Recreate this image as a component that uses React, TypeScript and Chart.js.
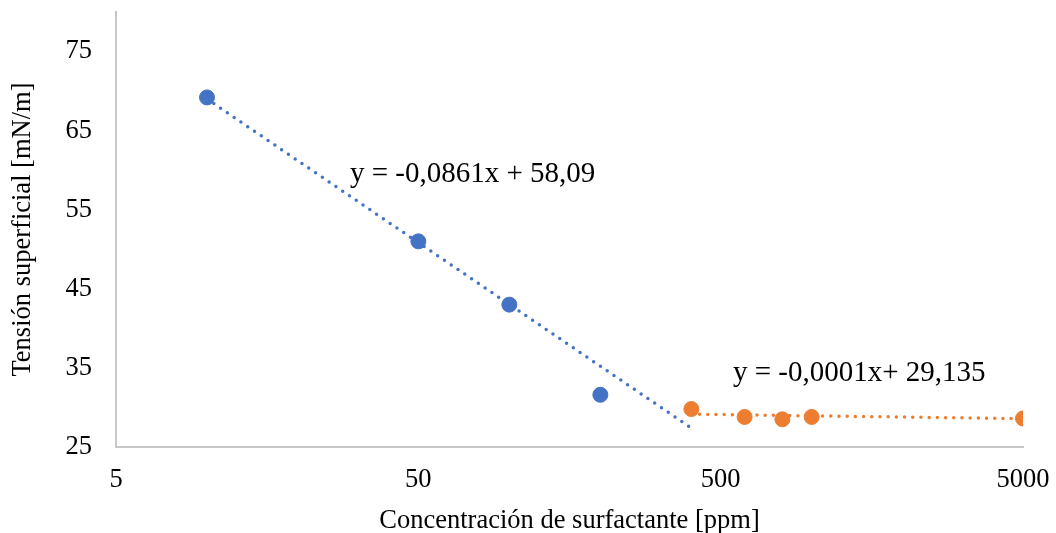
import React, { useEffect, useRef } from "react";
import { Chart, registerables } from "chart.js";

Chart.register(...registerables);

const BLUE_X = [10, 50, 100, 200];
const BLUE_Y = [69.2, 51.0, 43.0, 31.6];
const ORANGE_X = [400, 600, 800, 1000, 5000];
const ORANGE_Y = [29.8, 28.8, 28.5, 28.8, 28.6];
const BLUE_TREND_X = [10, 400];
const BLUE_TREND_Y = [69.0, 27.4];
const ORANGE_TREND_X = [400, 5000];
const ORANGE_TREND_Y = [29.15, 28.58];
const X_TICKS = [5, 50, 500, 5000];
const Y_TICKS = [25, 35, 45, 55, 65, 75];
const EQ_BLUE = "y = -0,0861x + 58,09";
const EQ_ORANGE = "y = -0,0001x+ 29,135";
const EQ_BLUE_POS = [29.7, 59.5];
const EQ_ORANGE_POS = [549, 34.3];

const FONT = '"Liberation Serif", "Times New Roman", serif';
const BLUE = "#4472C4";
const ORANGE = "#ED7D31";

const toPts = (xs: number[], ys: number[]) => xs.map((x, i) => ({ x, y: ys[i] }));

const eqPlugin = {
  id: "eqLabels",
  afterDatasetsDraw(chart: any) {
    const { ctx, scales } = chart;
    ctx.save();
    ctx.fillStyle = "#000";
    ctx.font = `29px ${FONT}`;
    ctx.textAlign = "left";
    ctx.textBaseline = "middle";
    ctx.fillText(EQ_BLUE, scales.x.getPixelForValue(EQ_BLUE_POS[0]), scales.y.getPixelForValue(EQ_BLUE_POS[1]));
    ctx.fillText(EQ_ORANGE, scales.x.getPixelForValue(EQ_ORANGE_POS[0]), scales.y.getPixelForValue(EQ_ORANGE_POS[1]));
    ctx.restore();
  },
};

export default function App() {
  const ref = useRef<HTMLCanvasElement | null>(null);
  useEffect(() => {
    document.body.style.margin = "0";
    const canvas = ref.current!;
    const chart = new Chart(canvas, {
      type: "scatter",
      data: {
        datasets: [
          {
            data: toPts(BLUE_X, BLUE_Y),
            backgroundColor: BLUE,
            borderColor: BLUE,
            pointRadius: 7.5,
            showLine: false,
          },
          {
            data: toPts(ORANGE_X, ORANGE_Y),
            backgroundColor: ORANGE,
            borderColor: ORANGE,
            pointRadius: 7.5,
            showLine: false,
          },
          {
            data: toPts(BLUE_TREND_X, BLUE_TREND_Y),
            borderColor: BLUE,
            borderWidth: 3.5,
            borderDash: [0, 8.2],
            borderCapStyle: "round",
            pointRadius: 0,
            showLine: true,
          },
          {
            data: toPts(ORANGE_TREND_X, ORANGE_TREND_Y),
            borderColor: ORANGE,
            borderWidth: 3.5,
            borderDash: [0, 8.2],
            borderCapStyle: "round",
            pointRadius: 0,
            showLine: true,
          },
        ],
      },
      options: {
        animation: false,
        responsive: false,
        maintainAspectRatio: false,
        layout: { padding: { top: 12, right: 33, left: 0, bottom: 0 } },
        plugins: { legend: { display: false }, tooltip: { enabled: false } },
        scales: {
          x: {
            type: "logarithmic",
            min: 5,
            max: 5000,
            afterBuildTicks: (s: any) => {
              s.ticks = X_TICKS.map((v) => ({ value: v }));
            },
            afterFit: (s: any) => {
              s.height = 86;
              s.paddingLeft = 0;
              s.paddingRight = 0;
            },
            grid: { display: false, drawTicks: false },
            border: { display: true, color: "#c8c8c8", width: 2 },
            ticks: {
              color: "#000",
              font: { family: FONT, size: 26.5 },
              padding: 17,
              maxRotation: 0,
              autoSkip: false,
              callback: (v: any) => String(v),
            },
            title: {
              display: true,
              text: "Concentración de surfactante [ppm]",
              color: "#000",
              font: { family: FONT, size: 26.5 },
              padding: { top: 0, bottom: -4 },
            },
          },
          y: {
            type: "linear",
            min: 25,
            max: 80,
            afterBuildTicks: (s: any) => {
              s.ticks = Y_TICKS.map((v) => ({ value: v }));
            },
            afterFit: (s: any) => {
              s.width = 116;
              s.paddingTop = 0;
              s.paddingBottom = 0;
            },
            grid: { display: false, drawTicks: false },
            border: { display: true, color: "#c8c8c8", width: 2 },
            ticks: {
              color: "#000",
              font: { family: FONT, size: 26.5 },
              padding: 24,
              callback: (v: any) => String(v),
            },
            title: {
              display: true,
              text: "Tensión superficial [mN/m]",
              color: "#000",
              font: { family: FONT, size: 26.5 },
              padding: { top: 7, bottom: 0 },
            },
          },
        },
      },
      plugins: [eqPlugin],
    });
    return () => chart.destroy();
  }, []);
  return (
    <div style={{ width: 1056, height: 533, position: "relative", overflow: "hidden" }}>
      <canvas ref={ref} width={1056} height={533} style={{ display: "block" }} />
    </div>
  );
}
